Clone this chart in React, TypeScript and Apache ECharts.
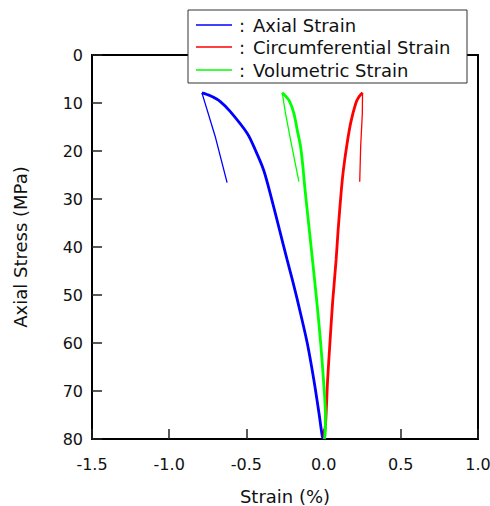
import React, { useEffect, useRef } from "react";
import * as echarts from "echarts";

const seriesNames = ["Axial Strain", "Circumferential Strain", "Volumetric Strain"];
const seriesColors = ["#0000ff", "#ff0000", "#00ff00"];

// [strain %, axial stress MPa]
const axialInitial = [[-0.625, 26.6], [-0.70, 17.2], [-0.788, 7.9]];
const axialMain = [
  [-0.788, 7.9], [-0.734, 8.5], [-0.669, 9.7], [-0.604, 11.8],
  [-0.495, 16.3], [-0.442, 19.8], [-0.388, 24.0], [-0.338, 29.8], [-0.285, 36.5],
  [-0.236, 42.7], [-0.205, 46.5], [-0.165, 51.7], [-0.106, 60],
  [-0.063, 67.7], [-0.030, 74.6], [-0.008, 79.5], [0.0, 80],
];
const circInitial = [[0.234, 26.4], [0.240, 19.1], [0.251, 12.1], [0.252, 7.85]];
const circMain = [
  [0.252, 7.85], [0.229, 8.7], [0.208, 10.1], [0.175, 14.2], [0.149, 19.1],
  [0.128, 24.0], [0.115, 28.1], [0.094, 36.5], [0.081, 42.7],
  [0.058, 51.7], [0.041, 60], [0.026, 67.7], [0.013, 76.7], [0.002, 79.5],
];
const volInitial = [[-0.160, 26.4], [-0.214, 17.7], [-0.247, 12.1], [-0.268, 7.85]];
const volMain = [
  [-0.268, 7.85], [-0.225, 9.4], [-0.193, 12.1], [-0.171, 15.6], [-0.149, 19.1],
  [-0.134, 23.3], [-0.121, 27.8], [-0.104, 33], [-0.071, 43], [-0.043, 51.7],
  [-0.019, 60], [0.002, 69], [0.012, 75], [0.010, 79], [0.005, 80],
];

const xTicks = { min: -1.5, max: 1.0, interval: 0.5 };
const yTicks = { min: 0, max: 80, interval: 10 };

const FONT = "DejaVu Sans";

export default function App() {
  const ref = useRef<HTMLDivElement>(null);
  useEffect(() => {
    if (!ref.current) return;
    const chart = echarts.init(ref.current, null, { renderer: "svg" });
    const pairs = [
      [axialInitial, axialMain],
      [circInitial, circMain],
      [volInitial, volMain],
    ];
    const series: any[] = [];
    pairs.forEach((p, i) => {
      series.push({
        type: "line", name: seriesNames[i], data: p[0], showSymbol: false,
        lineStyle: { color: seriesColors[i], width: 1.3 }, itemStyle: { color: seriesColors[i] },
      });
      series.push({
        type: "line", name: seriesNames[i], data: p[1], showSymbol: false,
        smooth: 0.3,
        lineStyle: { color: seriesColors[i], width: 2.8 }, itemStyle: { color: seriesColors[i] },
      });
    });

    const legendRows = [25, 47, 70];
    const legendChildren: any[] = [
      {
        type: "rect", shape: { x: 188, y: 10, width: 279, height: 73 },
        style: { fill: "#fff", stroke: "#333", lineWidth: 1 },
      },
    ];
    seriesNames.forEach((n, i) => {
      legendChildren.push({
        type: "line", shape: { x1: 196, y1: legendRows[i], x2: 232, y2: legendRows[i] },
        style: { stroke: seriesColors[i], lineWidth: 1.5 },
      });
      legendChildren.push({
        type: "text", x: 239, y: legendRows[i],
        style: { text: ":", fill: "#111", font: `18px '${FONT}'`, textVerticalAlign: "middle" },
      });
      legendChildren.push({
        type: "text", x: 253, y: legendRows[i],
        style: { text: n, fill: "#111", font: `18px '${FONT}'`, textVerticalAlign: "middle" },
      });
    });

    chart.setOption({
      animation: false,
      backgroundColor: "#fff",
      grid: {
        left: 92, top: 55, width: 386, height: 384, show: true,
        borderColor: "#000", borderWidth: 2, backgroundColor: "transparent",
        outerBoundsMode: "none", containLabel: false,
      },
      xAxis: {
        type: "value", min: xTicks.min, max: xTicks.max, interval: xTicks.interval,
        name: "Strain (%)", nameLocation: "middle", nameGap: 48,
        nameTextStyle: { fontFamily: FONT, fontSize: 18, color: "#111" },
        axisLine: { onZero: false, lineStyle: { color: "#000", width: 2 } },
        axisTick: { inside: true, length: 10, lineStyle: { color: "#222", width: 1.5 } },
        axisLabel: {
          fontFamily: FONT, fontSize: 16, color: "#111", margin: 17,
          formatter: (v: number) => v.toFixed(1),
        },
        splitLine: { show: false },
      },
      yAxis: {
        type: "value", inverse: true, min: yTicks.min, max: yTicks.max, interval: yTicks.interval,
        name: "Axial Stress (MPa)", nameLocation: "middle", nameGap: 63,
        nameTextStyle: { fontFamily: FONT, fontSize: 18, color: "#111" },
        axisLine: { onZero: false, lineStyle: { color: "#000", width: 2 } },
        axisTick: { inside: true, length: 10, lineStyle: { color: "#222", width: 1.5 } },
        axisLabel: { fontFamily: FONT, fontSize: 16, color: "#111", margin: 9 },
        splitLine: { show: false },
      },
      series,
      graphic: [{ type: "group", z: 100, children: legendChildren }],
    });
    return () => chart.dispose();
  }, []);
  return (
    <div
      ref={ref}
      style={{ position: "fixed", left: 0, top: 0, width: 490, height: 506 }}
    />
  );
}
